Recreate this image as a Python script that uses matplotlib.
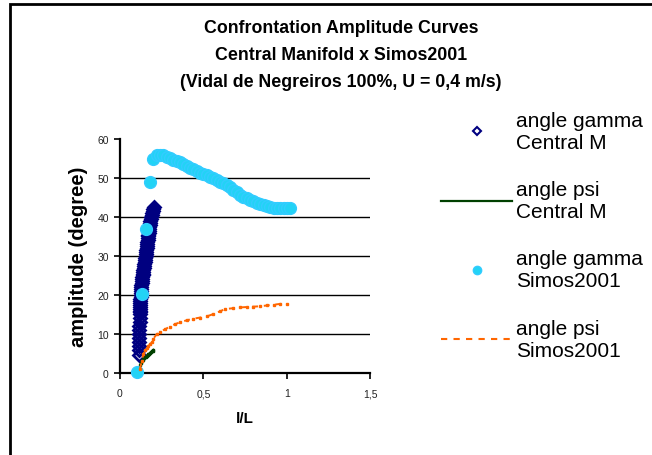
import matplotlib.pyplot as plt
from matplotlib.patches import Rectangle
from matplotlib.lines import Line2D

plt.rcParams['font.family'] = ['Liberation Sans', 'DejaVu Sans']

# ---------------- Datos ----------------
# angle gamma - Central Manifold
gamma_cm_x = [0.116, 0.116, 0.116, 0.116, 0.116, 0.116, 0.117, 0.117, 0.118, 0.118,
              0.119, 0.1195, 0.120, 0.1205, 0.121, 0.1215, 0.122, 0.1225, 0.123, 0.1235,
              0.124, 0.125, 0.126, 0.127, 0.128, 0.129, 0.130, 0.1315, 0.133, 0.1345,
              0.136, 0.1375, 0.139, 0.1405, 0.142, 0.1435, 0.145, 0.147, 0.149, 0.151,
              0.153, 0.1545, 0.156, 0.1575, 0.159, 0.1605, 0.162, 0.1635, 0.165, 0.1665,
              0.168, 0.1695, 0.171, 0.1725, 0.174, 0.176, 0.178, 0.180, 0.182, 0.1845,
              0.187, 0.1895, 0.192, 0.195, 0.198, 0.202]
gamma_cm_y = [4.5, 6.0, 7.0, 8.0, 9.0, 10.0, 11.0, 12.0, 13.0, 14.0,
              15.0, 15.5, 16.0, 16.5, 17.0, 17.5, 18.0, 18.5, 19.0, 19.5,
              20.0, 20.5, 21.0, 21.5, 22.0, 22.5, 23.0, 23.5, 24.0, 24.5,
              25.0, 25.5, 26.0, 26.5, 27.0, 27.5, 28.0, 28.5, 29.0, 29.5,
              30.0, 30.5, 31.0, 31.5, 32.0, 32.5, 33.0, 33.5, 34.0, 34.5,
              35.0, 35.5, 36.0, 36.5, 37.0, 37.5, 38.0, 38.5, 39.0, 39.5,
              40.0, 40.5, 41.0, 41.5, 42.0, 42.5]

# angle psi - Central Manifold
psi_cm_x = [0.118, 0.122, 0.126, 0.130, 0.135, 0.140, 0.145, 0.150, 0.155,
            0.160, 0.165, 0.170, 0.175, 0.180, 0.185, 0.190, 0.195, 0.200]
psi_cm_y = [1.0, 2.0, 2.6, 3.0, 3.3, 3.5, 3.7, 4.0, 4.2,
            4.4, 4.6, 4.8, 4.9, 5.1, 5.3, 5.5, 5.7, 5.9]

# angle gamma - Simos2001
gamma_sim_x = [0.10, 0.13, 0.155, 0.18, 0.20, 0.22, 0.24, 0.26, 0.28, 0.30,
               0.32, 0.34, 0.36, 0.38, 0.40, 0.42, 0.44, 0.46, 0.48, 0.50,
               0.52, 0.54, 0.56, 0.58, 0.60, 0.62, 0.64, 0.66, 0.68, 0.70,
               0.72, 0.74, 0.76, 0.78, 0.80, 0.82, 0.84, 0.86, 0.88, 0.90,
               0.92, 0.94, 0.96, 0.98, 1.00, 1.02]
gamma_sim_y = [0.3, 20.2, 36.8, 48.9, 54.8, 55.8, 56.0, 55.8, 55.5, 55.1,
               54.6, 54.3, 54.0, 53.6, 53.0, 52.6, 52.2, 51.8, 51.4, 51.0,
               50.7, 50.3, 49.9, 49.5, 49.0, 48.6, 48.1, 47.6, 47.0, 46.3,
               45.7, 45.2, 44.9, 44.4, 44.0, 43.7, 43.4, 43.1, 42.8, 42.5,
               42.3, 42.2, 42.2, 42.2, 42.2, 42.2]

# angle psi - Simos2001
psi_sim_x = [0.12, 0.13, 0.14, 0.15, 0.16, 0.17, 0.18, 0.19, 0.20, 0.22,
             0.24, 0.27, 0.30, 0.33, 0.36, 0.40, 0.44, 0.48, 0.52, 0.56,
             0.60, 0.63, 0.68, 0.72, 0.76, 0.80, 0.84, 0.88, 0.92, 0.96, 1.00]
psi_sim_y = [1.0, 3.0, 4.8, 5.8, 6.3, 6.8, 7.4, 8.0, 8.8, 9.9,
             10.5, 11.2, 11.9, 12.5, 13.0, 13.5, 13.9, 14.2, 14.5, 15.1,
             15.8, 16.4, 16.6, 16.8, 16.9, 17.0, 17.1, 17.3, 17.5, 17.7, 17.8]

x_ticks = [0, 0.5, 1, 1.5]
x_ticklabels = ['0', '0,5', '1', '1,5']
y_ticks = [0, 10, 20, 30, 40, 50, 60]
grid_lines = [10, 20, 30, 40, 50]

title_lines = ['Confrontation Amplitude Curves',
               'Central Manifold x Simos2001',
               '(Vidal de Negreiros 100%, U = 0,4 m/s)']
labels = ['angle gamma\nCentral M', 'angle psi\nCentral M',
          'angle gamma\nSimos2001', 'angle psi\nSimos2001']

# ---------------- Gráfica ----------------
fig = plt.figure(figsize=(6.52, 4.56), dpi=100)
ax = fig.add_axes([0.184, 0.18, 0.384, 0.513])

for v in grid_lines:
    ax.axhline(v, color='black', lw=1.0, zorder=1)

ax.plot(gamma_cm_x, gamma_cm_y, ls='none', marker='D', ms=6.5, mfc='none',
        mec='#000080', mew=2.0, zorder=3, clip_on=False)
ax.plot(psi_cm_x, psi_cm_y, color='#004000', lw=1.6, marker='s', ms=1.5,
        zorder=4)
ax.plot(gamma_sim_x, gamma_sim_y, ls='none', marker='o', ms=8.5, mfc='#22d3f5',
        mec='#33ccff', mew=1, zorder=5, clip_on=False)
ax.plot(psi_sim_x, psi_sim_y, color='#ff6600', lw=1.4, ls=(0, (3, 3)),
        marker='s', ms=1.5, zorder=6)

ax.set_xlim(0, 1.5)
ax.set_ylim(0, 60)
ax.set_xticks(x_ticks)
ax.set_xticklabels(x_ticklabels)
ax.set_yticks(y_ticks)
ax.tick_params(labelsize=7.5, labelcolor='#222222', width=1.2, length=4)
ax.tick_params(axis='x', pad=7)
ax.tick_params(axis='y', pad=4)
for s in ['top', 'right']:
    ax.spines[s].set_visible(False)
for s in ['left', 'bottom']:
    ax.spines[s].set_linewidth(1.6)

ax.set_xlabel('l/L', fontsize=11, fontweight='bold', labelpad=9)
ax.set_ylabel('amplitude (degree)', fontsize=14.5, fontweight='bold', labelpad=7)

# titulo, una linea por texto
for i, line in enumerate(title_lines):
    fig.text(0.523, 1 - (28.5 + 27 * i) / 456, line, ha='center', va='center',
             fontsize=12.8, fontweight='bold')

handles = [
    Line2D([], [], ls='none', marker='D', ms=4, mfc='none', mec='#000080', mew=1.5),
    Line2D([], [], color='#004000', lw=1.6),
    Line2D([], [], ls='none', marker='o', ms=6, mfc='#22d3f5', mec='#33ccff'),
    Line2D([], [], color='#ff6600', lw=1.5, ls=(0, (3, 3))),
]
fig.legend(handles, labels, loc='upper left', bbox_to_anchor=(0.661, 0.778),
           frameon=False, fontsize=15, handlelength=3.4, handletextpad=0.2,
           labelspacing=1.36, borderpad=0)

# marco exterior
fig.patches.append(Rectangle((0.015, -0.1), 1.2, 1.089, transform=fig.transFigure,
                             fill=False, lw=2, edgecolor='black'))

fig.savefig('out.png', dpi=100)
